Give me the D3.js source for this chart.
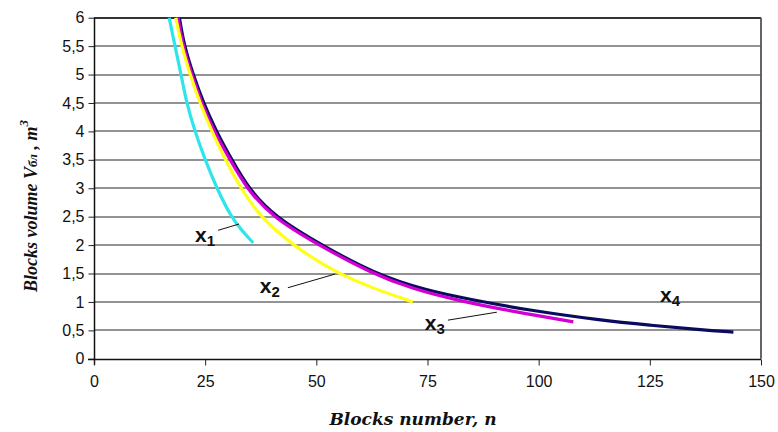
<!DOCTYPE html>
<html>
<head>
<meta charset="utf-8">
<script src="https://cdn.jsdelivr.net/npm/d3@7"></script>
<style>
  html, body { margin: 0; padding: 0; background: #fff; }
  svg { display: block; }
</style>
</head>
<body>
<svg id="chart" width="778" height="432"></svg>
<script>
// ---------- data ----------
const xTicks = [0, 25, 50, 75, 100, 125, 150];
const yTicks = [0, 0.5, 1, 1.5, 2, 2.5, 3, 3.5, 4, 4.5, 5, 5.5, 6];
const yTickLabels = ["0", "0,5", "1", "1,5", "2", "2,5", "3", "3,5", "4", "4,5", "5", "5,5", "6"];

const seriesNames = ["x4", "x3", "x2", "x1"];

const x1N = [16.9, 18.2, 19.6, 20.8, 22.7, 25.0, 27.6, 30.8, 33.2, 35.8];
const x1V = [6.0, 5.5, 5.0, 4.5, 4.0, 3.5, 3.0, 2.5, 2.26, 2.04];

const x2N = [18.4, 19.7, 21.6, 23.8, 26.5, 29.5, 33.0, 37.3, 44.6, 54.6, 63.5, 71.7];
const x2V = [6.0, 5.5, 5.0, 4.5, 4.0, 3.5, 3.0, 2.5, 2.0, 1.5, 1.22, 1.0];

const x3N = [18.9, 20.0, 22.0, 24.2, 27.0, 30.6, 34.3, 40.0, 50.5, 62.5, 72.0, 81.6, 94.3, 107.8];
const x3V = [6.0, 5.5, 5.0, 4.5, 4.0, 3.5, 3.0, 2.5, 2.0, 1.5, 1.22, 1.03, 0.83, 0.65];

const x4N = [19.2, 20.3, 22.3, 24.6, 27.5, 31.0, 34.7, 40.6, 51.2, 63.0, 74.8, 85.0, 98.0, 113.8, 125.0, 136.3, 143.8];
const x4V = [6.0, 5.5, 5.0, 4.5, 4.0, 3.5, 3.0, 2.5, 2.0, 1.5, 1.2, 1.04, 0.85, 0.68, 0.59, 0.51, 0.47];

const seriesColors = { x1: "#2ee6ea", x2: "#ffff1a", x3: "#d200d2", x4: "#0a0a5e" };

// annotation labels (data coords) and leader lines
const labelNames = ["x1", "x2", "x3", "x4"];
const labelN = [22.7, 37.3, 74.4, 127.3];
const labelV = [2.05, 1.16, 0.51, 1.0];
const leaderN0 = [27.9, 43.6, 79.6, null];
const leaderV0 = [2.26, 1.25, 0.68, null];
const leaderN1 = [32.6, 54.2, 90.6, null];
const leaderV1 = [2.37, 1.49, 0.82, null];

// ---------- layout ----------
const svg = d3.select("#chart");
const margin = { left: 94, right: 17, top: 17.7, bottom: 73.2 };
const W = 778, H = 432;
const x = d3.scaleLinear().domain([0, 150]).range([margin.left, W - margin.right]);
const y = d3.scaleLinear().domain([0, 6]).range([H - margin.bottom, margin.top]);

svg.append("rect").attr("width", W).attr("height", H).attr("fill", "#fff");

// gridlines
svg.append("g")
  .selectAll("line")
  .data(yTicks.filter(d => d > 0))
  .join("line")
  .attr("x1", x(0)).attr("x2", x(150))
  .attr("y1", d => Math.round(y(d))).attr("y2", d => Math.round(y(d)))
  .attr("stroke", d => d === 6 ? "#333" : "#6f6f6f")
  .attr("stroke-width", d => d === 6 ? 2 : 1.6);

// right border
svg.append("line")
  .attr("x1", Math.round(x(150))).attr("x2", Math.round(x(150)))
  .attr("y1", y(6)).attr("y2", y(0))
  .attr("stroke", "#555").attr("stroke-width", 1.8);

// axes
const yAxis = d3.axisLeft(y).tickValues(yTicks)
  .tickFormat((d, i) => yTickLabels[i]).tickSize(6).tickPadding(4);
const gy = svg.append("g").attr("transform", `translate(${Math.round(x(0)) + 0.5},0)`).call(yAxis);
gy.select(".domain").remove();
gy.selectAll(".tick line").attr("stroke", "#222");
gy.selectAll(".tick text").attr("font-family", "Liberation Sans, Arial, sans-serif")
  .attr("font-size", 16).attr("fill", "#111");
gy.append("line").attr("x1", 0).attr("x2", 0).attr("y1", y(6)).attr("y2", y(0) + 6)
  .attr("stroke", "#111").attr("stroke-width", 1.5);

const xAxis = d3.axisBottom(x).tickValues(xTicks).tickSize(6).tickPadding(10);
const gx = svg.append("g").attr("transform", `translate(0,${Math.round(y(0)) + 0.5})`).call(xAxis);
gx.select(".domain").remove();
gx.selectAll(".tick line").attr("stroke", "#222");
gx.selectAll(".tick text").attr("font-family", "Liberation Sans, Arial, sans-serif")
  .attr("font-size", 16).attr("fill", "#111");
gx.append("line").attr("x1", x(0) - 6).attr("x2", x(150)).attr("y1", 0).attr("y2", 0)
  .attr("stroke", "#111").attr("stroke-width", 1.5);

// curves
const seriesData = {
  x1: x1N.map((n, i) => [n, x1V[i]]),
  x2: x2N.map((n, i) => [n, x2V[i]]),
  x3: x3N.map((n, i) => [n, x3V[i]]),
  x4: x4N.map((n, i) => [n, x4V[i]])
};
const line = d3.line().x(d => x(d[0])).y(d => y(d[1])).curve(d3.curveBasis);
svg.append("g")
  .selectAll("path")
  .data(seriesNames)
  .join("path")
  .attr("d", k => line(seriesData[k]))
  .attr("fill", "none")
  .attr("stroke", k => seriesColors[k])
  .attr("stroke-width", 3.2)
  .attr("stroke-linecap", "butt")
  .attr("stroke-linejoin", "round");

// leader lines
const leaders = labelNames.map((k, i) => ({ k, i })).filter(d => leaderN0[d.i] !== null);
svg.append("g").selectAll("line").data(leaders).join("line")
  .attr("x1", d => x(leaderN0[d.i])).attr("y1", d => y(leaderV0[d.i]))
  .attr("x2", d => x(leaderN1[d.i])).attr("y2", d => y(leaderV1[d.i]))
  .attr("stroke", "#111").attr("stroke-width", 1);

// labels
const lab = svg.append("g").selectAll("text").data(labelNames).join("text")
  .attr("x", (d, i) => x(labelN[i])).attr("y", (d, i) => y(labelV[i]))
  .attr("font-family", "Liberation Sans, Arial, sans-serif")
  .attr("font-weight", "bold").attr("font-size", 21).attr("fill", "#111");
lab.append("tspan").text(d => d[0]);
lab.append("tspan").attr("dy", 4).attr("font-size", 15).text(d => d.slice(1));

// axis titles
svg.append("text")
  .attr("x", 413).attr("y", 425)
  .attr("text-anchor", "middle")
  .attr("font-family", "DejaVu Serif, serif")
  .attr("font-style", "italic").attr("font-weight", "bold").attr("font-size", 17)
  .attr("fill", "#111")
  .text("Blocks number, n");

const yt = svg.append("text")
  .attr("transform", `translate(37,206) rotate(-90)`)
  .attr("text-anchor", "middle")
  .attr("font-family", "Liberation Serif, Times New Roman, serif")
  .attr("font-style", "italic").attr("font-weight", "bold").attr("font-size", 18)
  .attr("fill", "#111");
yt.append("tspan").text("Blocks volume V");
yt.append("tspan").attr("font-size", 13).text("бл");
yt.append("tspan").text(" , m");
yt.append("tspan").attr("dy", -9).attr("font-size", 13).text("3");
</script>
</body>
</html>
